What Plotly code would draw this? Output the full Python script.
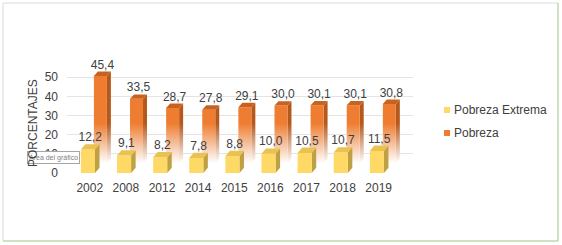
import plotly.graph_objects as go

years = ["2002", "2008", "2012", "2014", "2015", "2016", "2017", "2018", "2019"]
pobreza_extrema = [12.2, 9.1, 8.2, 7.8, 8.8, 10.0, 10.5, 10.7, 11.5]
pobreza = [45.4, 33.5, 28.7, 27.8, 29.1, 30.0, 30.1, 30.1, 30.8]
series_names = ["Pobreza Extrema", "Pobreza"]
y_ticks = [0, 10, 20, 30, 40, 50, 60]
y_ticktext = ["0", "10", "20", "30", "40", "50", ""]

def fmt(v):
    return f"{v:.1f}".replace(".", ",")

# geometry (style constants for the pseudo-3D look)
Y_HW, Y_DX, Y_DY = 0.195, 0.125, 2.8          # yellow front half-width, side depth, top depth
O_OFF, O_HW, O_DX, O_DY, O_LIFT = 0.345, 0.18, 0.11, 2.3, 5.2  # orange (back row)

YEL_FRONT, YEL_SIDE, YEL_TOP = "#FFD966", "#BFA043", "#E9C24F"
ORA_FRONT, ORA_SIDE, ORA_TOP = "#EE7D31", "#B4581C", "#C9621F"

def faces(xc, v, hw, dx, dy, base):
    xl, xr = xc - hw, xc + hw
    top = base + v
    front = ([xl, xr, xr, xl, xl], [base, base, top, top, base])
    side = ([xr, xr + dx, xr + dx, xr, xr], [base, base + dy, top + dy, top, base])
    topf = ([xl, xl + dx, xr + dx, xr, xl], [top, top + dy, top + dy, top, top])
    return front, side, topf

def collect(values, off, hw, dx, dy, base):
    out = {"front": ([], []), "side": ([], []), "top": ([], [])}
    for i, v in enumerate(values):
        f, s, t = faces(i + off, v, hw, dx, dy, base)
        for key, poly in (("front", f), ("side", s), ("top", t)):
            out[key][0].extend(poly[0] + [None])
            out[key][1].extend(poly[1] + [None])
    return out

yel = collect(pobreza_extrema, 0.0, Y_HW, Y_DX, Y_DY, 0.0)
ora = collect(pobreza, O_OFF, O_HW, O_DX, O_DY, O_LIFT)

fig = go.Figure()

def grad(color):
    return dict(type="vertical", start=5, stop=26,
                colorscale=[[0, "rgba(255,255,255,1)"], [1, color]])

# orange (back row) with fade to white at the bottom
fig.add_trace(go.Scatter(x=ora["side"][0], y=ora["side"][1], fill="toself", mode="none",
                         fillgradient=grad(ORA_SIDE), showlegend=False, hoverinfo="skip"))
fig.add_trace(go.Scatter(x=ora["front"][0], y=ora["front"][1], fill="toself", mode="none",
                         fillgradient=grad(ORA_FRONT), showlegend=False, hoverinfo="skip"))
fig.add_trace(go.Scatter(x=ora["top"][0], y=ora["top"][1], fill="toself", mode="none",
                         fillcolor=ORA_TOP, showlegend=False, hoverinfo="skip"))
# yellow (front row)
fig.add_trace(go.Scatter(x=yel["side"][0], y=yel["side"][1], fill="toself", mode="none",
                         fillcolor=YEL_SIDE, showlegend=False, hoverinfo="skip"))
fig.add_trace(go.Scatter(x=yel["front"][0], y=yel["front"][1], fill="toself", mode="none",
                         fillcolor=YEL_FRONT, showlegend=False, hoverinfo="skip"))
fig.add_trace(go.Scatter(x=yel["top"][0], y=yel["top"][1], fill="toself", mode="none",
                         fillcolor=YEL_TOP, showlegend=False, hoverinfo="skip"))

xs = list(range(len(years)))
fig.add_trace(go.Scatter(x=[i + Y_DX / 2 for i in xs], y=[v + Y_DY for v in pobreza_extrema],
                         mode="text", text=[fmt(v) for v in pobreza_extrema],
                         textposition="top center", cliponaxis=False, showlegend=False,
                         textfont=dict(size=12, color="#404040")))
fig.add_trace(go.Scatter(x=[i + O_OFF + O_DX / 2 for i in xs], y=[v + O_LIFT + O_DY for v in pobreza],
                         mode="text", text=[fmt(v) for v in pobreza],
                         textposition="top center", cliponaxis=False, showlegend=False,
                         textfont=dict(size=12, color="#404040")))

L, R, T, B = 67, 149, 58, 72
PW, PH = 562 - L - R, 245 - T - B

def px_x(p):
    return (p - L) / PW

def px_y(p):
    return (245 - B - p) / PH

# manual legend (squares + labels)
legend_shapes, legend_ann = [], []
for name, col, yc in zip(series_names, [YEL_FRONT, ORA_FRONT], [110, 133]):
    legend_shapes.append(dict(type="rect", xref="paper", yref="paper",
                              x0=px_x(444), x1=px_x(450), y0=px_y(yc + 3), y1=px_y(yc - 3),
                              fillcolor=col, line=dict(width=0)))
    legend_ann.append(dict(text=name, xref="paper", yref="paper", x=px_x(452), y=px_y(yc),
                           xanchor="left", yanchor="middle", showarrow=False,
                           font=dict(size=12, color="#404040")))

fig.update_layout(
    width=562, height=245,
    margin=dict(l=L, r=R, t=T, b=B, autoexpand=False),
    paper_bgcolor="white", plot_bgcolor="white",
    font=dict(family="Liberation Sans, Arial, sans-serif", size=12, color="#404040"),
    xaxis=dict(range=[-0.58, 9.0], tickvals=[i + 0.05 for i in xs], ticktext=years,
               showgrid=False, zeroline=False, showline=False, ticks="",
               ticklabelstandoff=6, tickfont=dict(size=12, color="#404040"), fixedrange=True),
    yaxis=dict(range=[0, 60], tickvals=y_ticks, ticktext=y_ticktext, showgrid=True,
               gridcolor="#E4E4E4", gridwidth=1, zeroline=False, showline=False, ticks="",
               ticklabelstandoff=8, tickfont=dict(size=12, color="#404040"), fixedrange=True),
    showlegend=False,
    shapes=[
        dict(type="rect", xref="paper", yref="paper", x0=px_x(3), x1=px_x(558),
             y0=px_y(241), y1=px_y(3), line=dict(color="#DADADA", width=1)),
        dict(type="line", xref="paper", yref="paper", x0=px_x(558), x1=px_x(558),
             y0=px_y(241), y1=px_y(3), line=dict(color="#C5DFB4", width=1.5)),
        dict(type="line", xref="paper", yref="paper", x0=px_x(3), x1=px_x(558),
             y0=px_y(241), y1=px_y(241), line=dict(color="#C5DFB4", width=1.5)),
    ] + legend_shapes,
    annotations=[
        dict(text="Área del gráfico", xref="paper", yref="paper", x=px_x(53), y=px_y(157.5),
             xanchor="center", yanchor="middle",
             showarrow=False, font=dict(size=7, color="#7F7F7F"), bgcolor="white",
             bordercolor="#A6A6A6", borderwidth=1, borderpad=1),
        dict(text="PORCENTAJES", xref="paper", yref="paper", x=px_x(33), y=px_y(123),
             xanchor="center", yanchor="middle",
             showarrow=False, textangle=-90, font=dict(size=12, color="#404040")),
    ] + legend_ann,
)

fig.write_html("out.html", config={"displayModeBar": False},
               post_script="document.body.style.margin='0';")
